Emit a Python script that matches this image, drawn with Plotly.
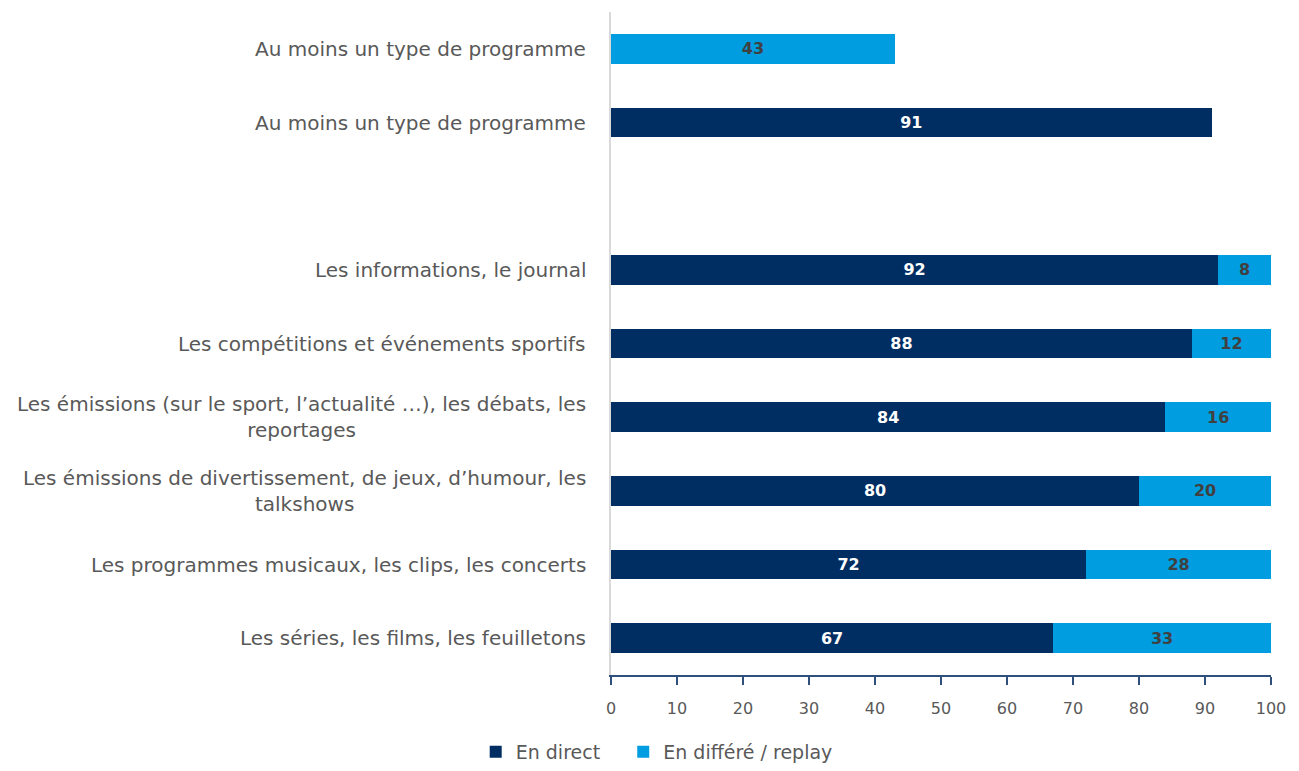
import plotly.graph_objects as go

# Données (du haut vers le bas)
categories = [
    "Au moins un type de programme",
    "Au moins un type de programme",
    "",
    "Les informations, le journal",
    "Les compétitions et événements sportifs",
    "Les émissions (sur le sport, l’actualité …), les débats, les<br>reportages",
    "Les émissions de divertissement, de jeux, d’humour, les<br>talkshows",
    "Les programmes musicaux, les clips, les concerts",
    "Les séries, les films, les feuilletons",
]
en_direct = [None, 91, None, 92, 88, 84, 80, 72, 67]
en_differe = [43, None, None, 8, 12, 16, 20, 28, 33]
x_ticks = [0, 10, 20, 30, 40, 50, 60, 70, 80, 90, 100]

COLORS = {
    'direct': '#002d62',
    'differe': '#009ee0',
    'text': '#595959',
}
FONT = "DejaVu Sans"

positions = list(range(len(categories)))

fig = go.Figure()

fig.add_trace(go.Bar(
    y=positions,
    x=en_direct,
    orientation='h',
    name='En direct\u00a0\u00a0\u00a0',
    marker=dict(color=COLORS['direct'], line=dict(width=0)),
    width=0.4,
    text=[f"<b>{v}</b>" if v is not None else "" for v in en_direct],
    textposition='inside',
    insidetextanchor='middle',
    textangle=0,
    textfont=dict(color='white', size=16, family=FONT),
    constraintext='none',
    hoverinfo='skip',
))

fig.add_trace(go.Bar(
    y=positions,
    x=en_differe,
    orientation='h',
    name='En différé / replay',
    marker=dict(color=COLORS['differe'], line=dict(width=0)),
    width=0.4,
    text=[f"<b>{v}</b>" if v is not None else "" for v in en_differe],
    textposition='inside',
    insidetextanchor='middle',
    textangle=0,
    textfont=dict(color='#404040', size=16, family=FONT),
    constraintext='none',
    hoverinfo='skip',
))

# Libellés des catégories (centrés, alignés à droite)
for pos, label in zip(positions, categories):
    if not label:
        continue
    fig.add_annotation(
        x=0, xref='paper', y=pos, yref='y',
        text=label, showarrow=False,
        xanchor='right', yanchor='middle', align='center',
        xshift=-23,
        font=dict(size=20, color=COLORS['text'], family=FONT),
    )

# la page ajoute une marge de 8 px autour du graphique
fig.update_layout(
    barmode='stack',
    width=1283, height=755,
    margin=dict(l=603, r=20, t=4, b=88, autoexpand=False),
    plot_bgcolor='white',
    paper_bgcolor='white',
    font=dict(family=FONT, color=COLORS['text']),
    showlegend=True,
    legend=dict(
        orientation='h',
        x=-0.205, xanchor='left',
        y=-0.116, yanchor='middle',
        font=dict(size=19, color=COLORS['text'], family=FONT),
        itemsizing='constant',
        traceorder='normal',
    ),
    xaxis=dict(
        range=[0, 100],
        tickvals=x_ticks,
        showgrid=False,
        zeroline=False,
        showline=True,
        linecolor='#2f4f7f',
        linewidth=2,
        ticks='outside',
        ticklen=8,
        tickwidth=1.5,
        tickcolor='#2f4f7f',
        ticklabelstandoff=10,
        tickfont=dict(size=16, color=COLORS['text'], family=FONT),
    ),
    yaxis=dict(
        range=[len(categories) - 0.5, -0.5],
        showticklabels=False,
        showgrid=False,
        zeroline=False,
        showline=True,
        linecolor='#d9d9d9',
        linewidth=1.5,
        ticks='',
    ),
)

fig.write_html("out.html")
